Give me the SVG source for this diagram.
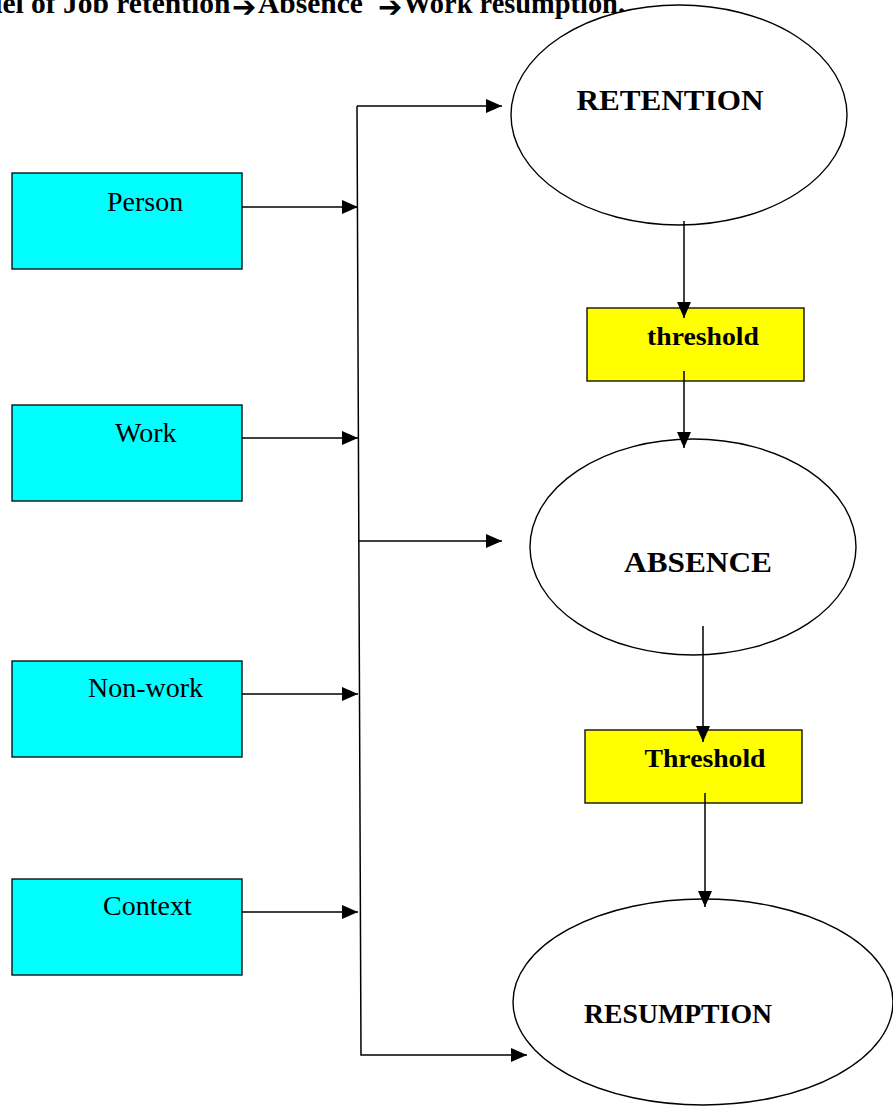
<svg xmlns="http://www.w3.org/2000/svg" width="893" height="1112" viewBox="0 0 893 1112">
<style>
.box{fill:#00FFFF;stroke:#111;stroke-width:1.4}
.ybox{fill:#FFFF00;stroke:#111;stroke-width:1.4}
.ell{fill:#fff;stroke:#000;stroke-width:1.4}
.lbl{font-family:"Liberation Serif","Times New Roman",serif;font-size:28px;fill:#000}
.blbl{font-family:"Liberation Serif","Times New Roman",serif;font-weight:bold;fill:#000}
.ttl{font-family:"Liberation Serif","Times New Roman",serif;font-weight:bold;font-size:29.5px;fill:#000}
.tarr{font-family:"DejaVu Sans",sans-serif;font-weight:bold;font-size:29px;fill:#000}
.conn{stroke:#000;stroke-width:1.5;fill:none}
</style>
<defs>
<marker id="ah" markerUnits="userSpaceOnUse" markerWidth="16" markerHeight="14" refX="16" refY="7" orient="auto">
<path d="M0,0 L16,7 L0,14 Z" fill="#000"/>
</marker>
</defs>
<rect width="893" height="1112" fill="#fff"/>
<g id="title">
<text class="ttl" x="-14" y="13">del of Job retention</text>
<text class="tarr" x="232" y="17">➔</text>
<text class="ttl" x="258" y="13">Absence</text>
<text class="tarr" x="378" y="17">➔</text>
<text class="ttl" x="403" y="13" textLength="222" lengthAdjust="spacingAndGlyphs">Work resumption.</text>
</g>
<g id="retention">
<ellipse class="ell" cx="679" cy="115" rx="168" ry="110"/>
<text class="blbl" font-size="30" x="670" y="110" text-anchor="middle" textLength="187" lengthAdjust="spacingAndGlyphs">RETENTION</text>
</g>
<g id="absence">
<ellipse class="ell" cx="693" cy="547" rx="163" ry="108"/>
<text class="blbl" font-size="30" x="698" y="572" text-anchor="middle" textLength="148" lengthAdjust="spacingAndGlyphs">ABSENCE</text>
</g>
<g id="resumption">
<ellipse class="ell" cx="703" cy="1002" rx="190" ry="103"/>
<text class="blbl" font-size="27" x="678" y="1023" text-anchor="middle" textLength="188" lengthAdjust="spacingAndGlyphs">RESUMPTION</text>
</g>
<g id="threshold1">
<rect class="ybox" x="587" y="308" width="217" height="73"/>
<text class="blbl" font-size="26" x="703" y="345" text-anchor="middle" textLength="112" lengthAdjust="spacingAndGlyphs">threshold</text>
</g>
<g id="threshold2">
<rect class="ybox" x="585" y="730" width="217" height="73"/>
<text class="blbl" font-size="26" x="705" y="767" text-anchor="middle" textLength="121" lengthAdjust="spacingAndGlyphs">Threshold</text>
</g>
<g id="person">
<rect class="box" x="12" y="173" width="230" height="96"/>
<text class="lbl" x="107" y="211">Person</text>
</g>
<g id="work">
<rect class="box" x="12" y="405" width="230" height="96"/>
<text class="lbl" x="115" y="442">Work</text>
</g>
<g id="nonwork">
<rect class="box" x="12" y="661" width="230" height="96"/>
<text class="lbl" x="88" y="697">Non-work</text>
</g>
<g id="context">
<rect class="box" x="12" y="879" width="230" height="96"/>
<text class="lbl" x="103" y="915">Context</text>
</g>
<g id="connectors">
<line class="conn" x1="242" y1="207" x2="358" y2="207" marker-end="url(#ah)"/>
<line class="conn" x1="242" y1="438" x2="358" y2="438" marker-end="url(#ah)"/>
<line class="conn" x1="242" y1="694" x2="358" y2="694" marker-end="url(#ah)"/>
<line class="conn" x1="242" y1="912" x2="358" y2="912" marker-end="url(#ah)"/>
<line class="conn" x1="357" y1="106" x2="502" y2="106" marker-end="url(#ah)"/>
<polyline class="conn" points="357,106 361,1055 527,1055" marker-end="url(#ah)"/>
<line class="conn" x1="359" y1="541" x2="502" y2="541" marker-end="url(#ah)"/>
<line class="conn" x1="684" y1="221" x2="684" y2="318" marker-end="url(#ah)"/>
<line class="conn" x1="684" y1="371" x2="684" y2="448" marker-end="url(#ah)"/>
<line class="conn" x1="703" y1="626" x2="703" y2="742" marker-end="url(#ah)"/>
<line class="conn" x1="705" y1="793" x2="705" y2="907" marker-end="url(#ah)"/>
</g>
</svg>
